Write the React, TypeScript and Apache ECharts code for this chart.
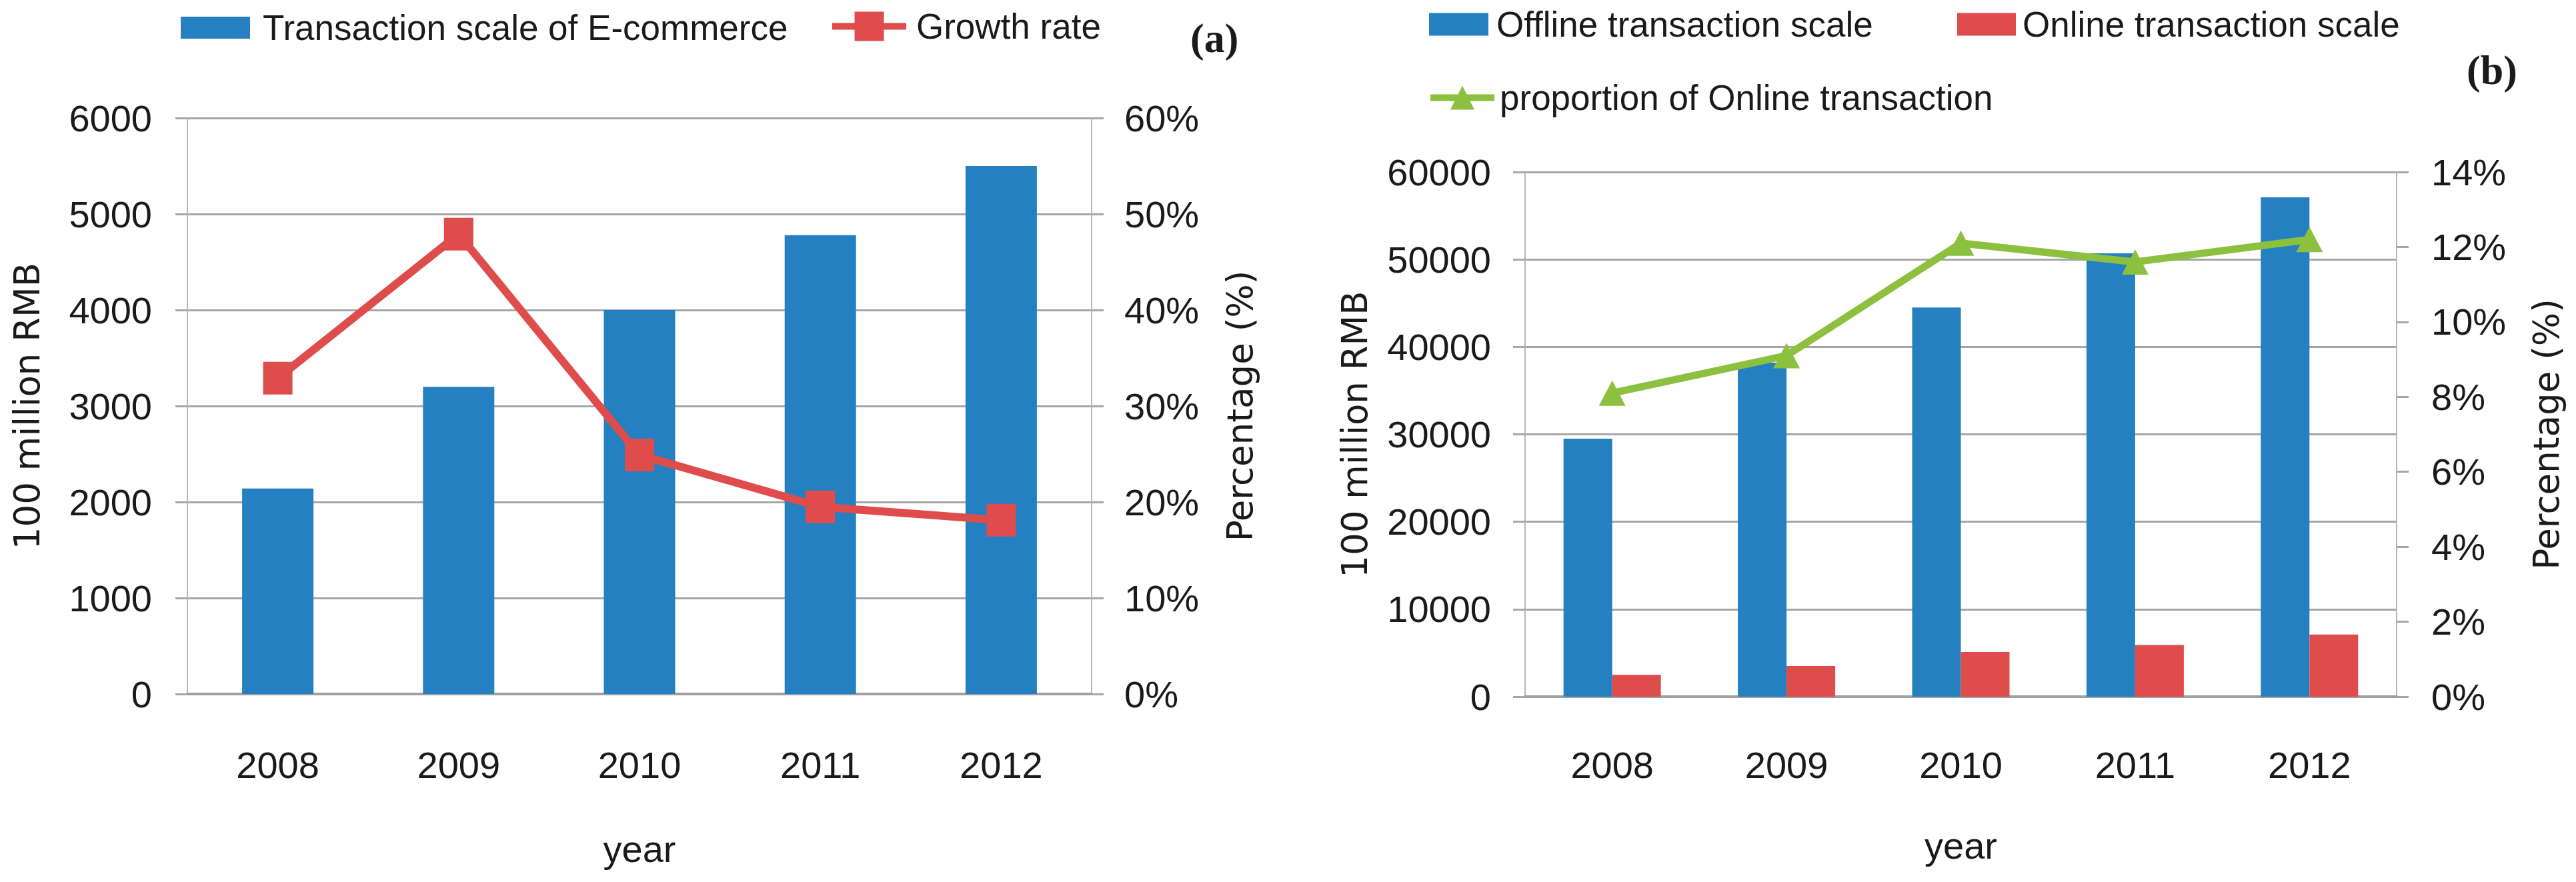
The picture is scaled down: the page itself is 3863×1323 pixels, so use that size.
import React, { useEffect, useRef } from "react";
import * as echarts from "echarts";

const years = ["2008", "2009", "2010", "2011", "2012"];
const ecommerceScale = [2140, 3200, 4000, 4780, 5500];
const growthRate = [32.9, 47.9, 24.9, 19.5, 18.1];
const offlineScale = [29500, 38200, 44500, 50700, 57100];
const onlineScale = [2500, 3500, 5100, 5900, 7100];
const onlineProportion = [8.1, 9.1, 12.1, 11.6, 12.2];

const NAMES = {
  ecom: "Transaction scale of E-commerce",
  growth: "Growth rate",
  offline: "Offline transaction scale",
  online: "Online transaction scale",
  prop: "proportion of Online transaction",
};

const BLUE = "#2580c2";
const RED = "#de4c4b";
const GREEN = "#8cc03f";
const GRID_GRAY = "#a6a6a6";
const TEXT = "#1a1a1a";
const SANS = "'Liberation Sans', Arial, sans-serif";
const WIDE = "'DejaVu Sans', Verdana, sans-serif";
const plain = (v: number) => String(v);

function leftAxis(gridIndex: number, max: number, interval: number, margin: number, nameGap: number) {
  return {
    type: "value",
    gridIndex,
    position: "left",
    min: 0,
    max,
    interval,
    name: "100 million RMB",
    nameLocation: "middle",
    nameRotate: 90,
    nameGap,
    nameTextStyle: { fontFamily: WIDE, fontSize: 53, color: TEXT },
    axisLine: { show: true, lineStyle: { color: "#b8b8b8", width: 2 } },
    axisTick: { show: true, length: 18, lineStyle: { color: GRID_GRAY, width: 3 } },
    splitLine: { show: true, lineStyle: { color: GRID_GRAY, width: 3 } },
    axisLabel: { fontFamily: SANS, fontSize: 56, color: TEXT, margin, formatter: plain },
  };
}

function rightAxis(gridIndex: number, max: number, interval: number, margin: number, nameGap: number) {
  return {
    type: "value",
    gridIndex,
    position: "right",
    min: 0,
    max,
    interval,
    name: "Percentage (%)",
    nameLocation: "middle",
    nameRotate: 90,
    nameGap,
    nameTextStyle: { fontFamily: WIDE, fontSize: 53, color: TEXT },
    axisLine: { show: true, lineStyle: { color: "#b8b8b8", width: 2 } },
    axisTick: { show: true, length: 18, lineStyle: { color: GRID_GRAY, width: 3 } },
    splitLine: { show: false },
    axisLabel: { fontFamily: SANS, fontSize: 56, color: TEXT, margin, formatter: "{value}%" },
  };
}

function xAxis(gridIndex: number, margin: number, nameGap: number) {
  return {
    type: "category",
    gridIndex,
    data: years,
    name: "year",
    nameLocation: "middle",
    nameGap,
    nameTextStyle: { fontFamily: SANS, fontSize: 56, color: TEXT },
    axisLine: { show: true, lineStyle: { color: "#a0a0a0", width: 4 } },
    axisTick: { show: false },
    axisLabel: { fontFamily: SANS, fontSize: 56, color: TEXT, margin },
  };
}

function legend(name: string, left: number, top: number, w: number, h: number, pad: number, icon?: string) {
  const l: any = {
    data: [name],
    left,
    top,
    padding: 0,
    itemWidth: w,
    itemHeight: h,
    selectedMode: false,
    textStyle: { fontFamily: SANS, fontSize: 53, color: TEXT, padding: [0, 0, 0, pad] },
  };
  if (icon) l.icon = icon;
  else l.lineStyle = { width: 10 };
  return l;
}

export default function App() {
  const ref = useRef<HTMLDivElement>(null);
  useEffect(() => {
    if (!ref.current) return;
    const chart = echarts.init(ref.current, null, { renderer: "svg" });
    chart.setOption({
      animation: false,
      backgroundColor: "#ffffff",
      title: [
        {
          text: "(a)",
          left: 1785,
          top: 26,
          padding: 0,
          textStyle: { fontFamily: "'Liberation Serif', serif", fontWeight: "bold", fontSize: 62, color: TEXT },
        },
        {
          text: "(b)",
          left: 3699,
          top: 74,
          padding: 0,
          textStyle: { fontFamily: "'Liberation Serif', serif", fontWeight: "bold", fontSize: 62, color: TEXT },
        },
      ],
      legend: [
        legend(NAMES.ecom, 271, 15, 104, 33, 14, "rect"),
        legend(NAMES.growth, 1243, 13, 111, 55, 10),
        legend(NAMES.offline, 2143, 10, 89, 34, 7, "rect"),
        legend(NAMES.online, 2935, 10, 88, 34, 5, "rect"),
        legend(NAMES.prop, 2140, 120, 96, 45, 3),
      ],
      grid: [
        { left: 281, top: 177, width: 1356, height: 864 },
        { left: 2287, top: 258, width: 1307, height: 787 },
      ],
      xAxis: [xAxis(0, 78, 204), xAxis(1, 74, 195)],
      yAxis: [
        leftAxis(0, 6000, 1000, 53, 214),
        rightAxis(0, 60, 10, 49, 196),
        leftAxis(1, 60000, 10000, 51, 229),
        rightAxis(1, 14, 2, 52, 198),
      ],
      series: [
        {
          name: NAMES.ecom,
          type: "bar",
          xAxisIndex: 0,
          yAxisIndex: 0,
          data: ecommerceScale,
          barWidth: 107,
          itemStyle: { color: BLUE },
        },
        {
          name: NAMES.growth,
          type: "line",
          xAxisIndex: 0,
          yAxisIndex: 1,
          data: growthRate,
          symbol: "rect",
          symbolSize: [44, 49],
          lineStyle: { color: RED, width: 12 },
          itemStyle: { color: RED },
        },
        {
          name: NAMES.offline,
          type: "bar",
          xAxisIndex: 1,
          yAxisIndex: 2,
          data: offlineScale,
          barWidth: 73,
          barGap: "0%",
          itemStyle: { color: BLUE },
        },
        {
          name: NAMES.online,
          type: "bar",
          xAxisIndex: 1,
          yAxisIndex: 2,
          data: onlineScale,
          barWidth: 73,
          barGap: "0%",
          itemStyle: { color: RED },
        },
        {
          name: NAMES.prop,
          type: "line",
          xAxisIndex: 1,
          yAxisIndex: 3,
          data: onlineProportion,
          symbol: "triangle",
          symbolSize: [40, 38],
          lineStyle: { color: GREEN, width: 11 },
          itemStyle: { color: GREEN },
        },
      ],
    });
    return () => chart.dispose();
  }, []);
  return (
    <div
      ref={ref}
      style={{ position: "fixed", left: 0, top: 0, width: 3863, height: 1323, background: "#fff" }}
    />
  );
}
